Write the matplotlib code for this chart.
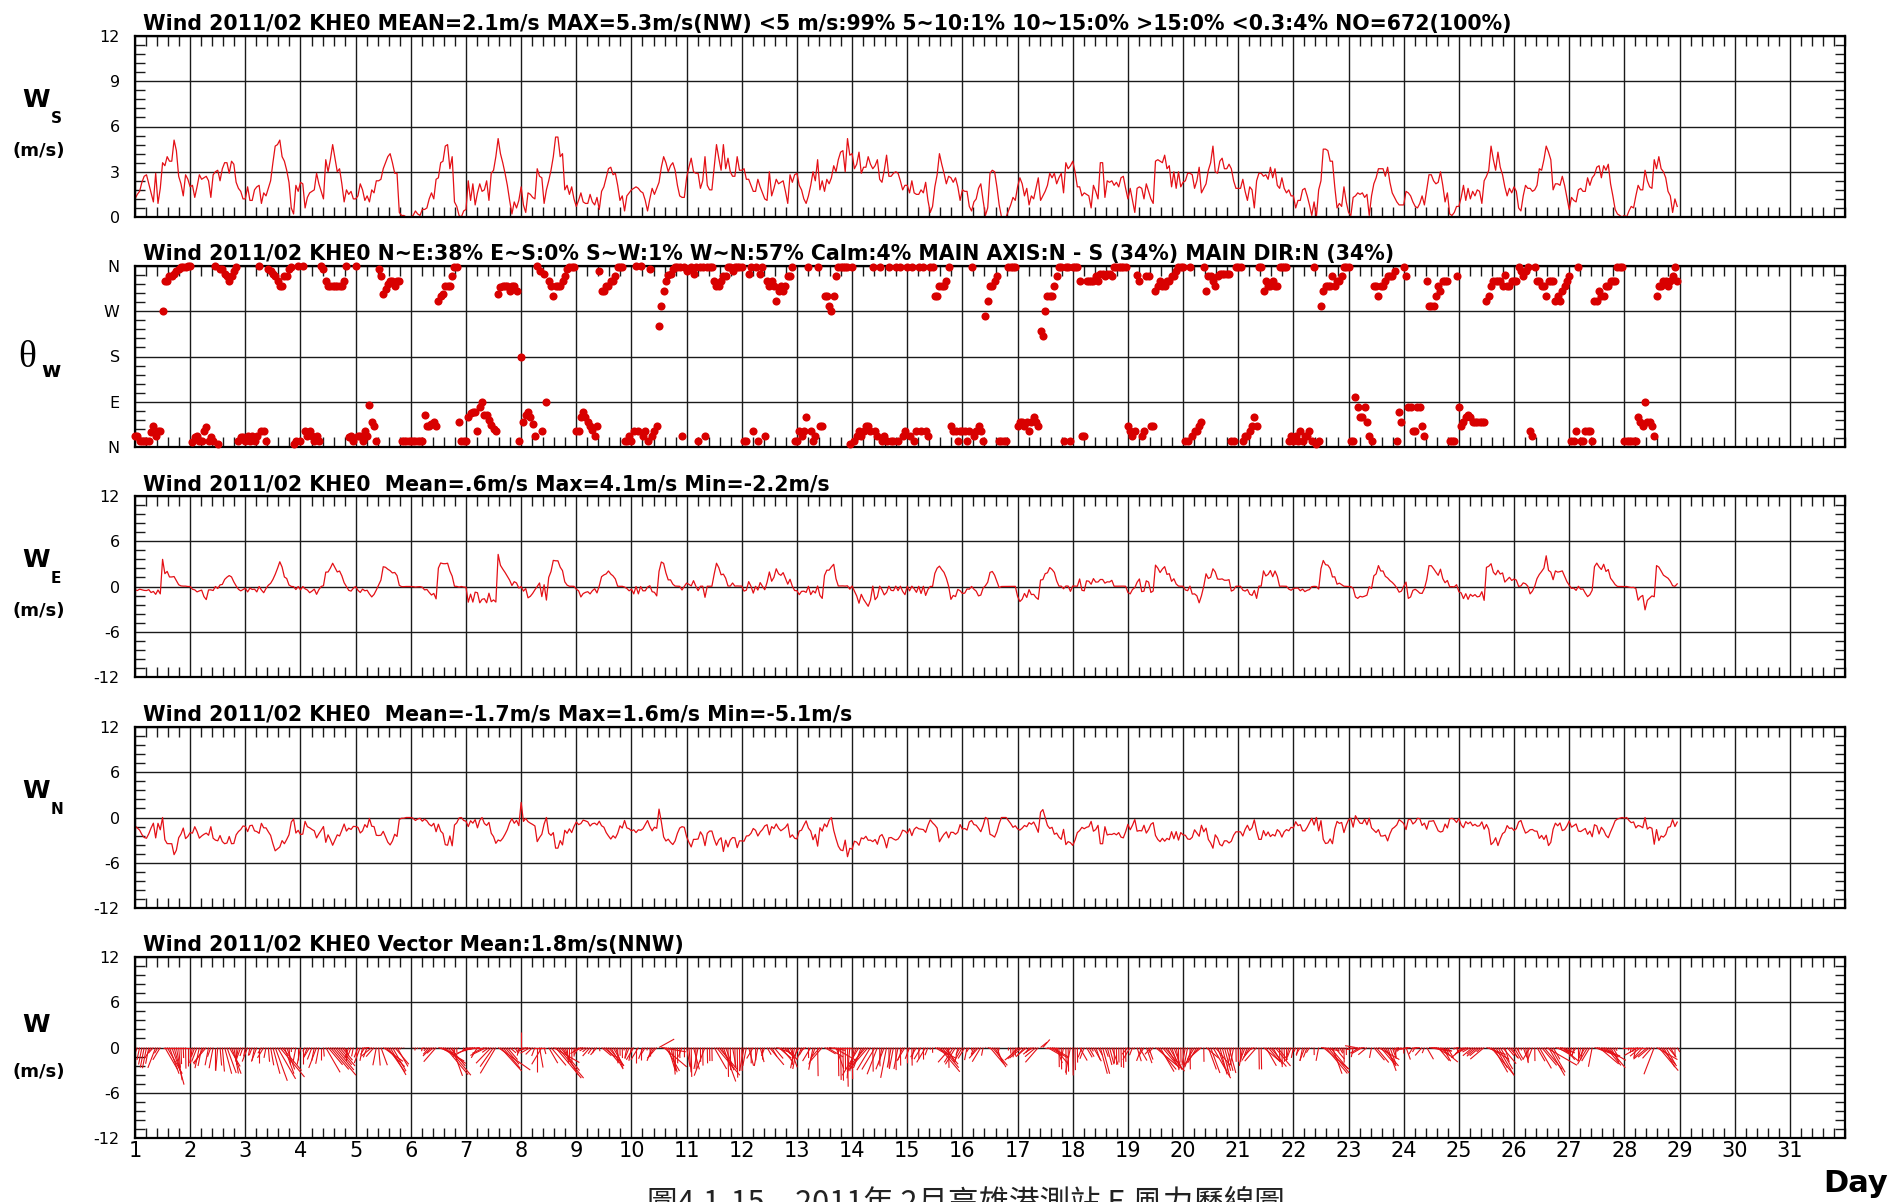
import numpy as np
import matplotlib.pyplot as plt
from matplotlib.collections import LineCollection
from matplotlib.ticker import MultipleLocator, AutoMinorLocator, FixedLocator

plt.rcParams['font.family'] = ['DejaVu Sans']
plt.rcParams['axes.unicode_minus'] = False

W, H, DPI = 1893, 1202, 100

# hourly wind speed (m/s), one row per day, 2011/02/01 .. 02/28
speed = [
    [1.2, 1.5, 1.7, 2.3, 2.7, 2.8, 2.2, 1.6, 1.0, 2.9, 0.9, 1.9, 3.6, 3.4, 4.0, 3.7, 3.7, 5.1, 4.4, 2.7, 2.2, 1.4, 2.8, 2.5],
    [2.0, 2.1, 1.3, 2.0, 2.8, 2.5, 2.6, 2.7, 2.4, 1.3, 2.8, 3.0, 3.1, 2.4, 3.2, 3.6, 3.6, 2.9, 3.7, 3.5, 2.3, 1.9, 1.7, 1.2],
    [1.2, 2.0, 1.1, 1.1, 1.8, 2.0, 2.1, 0.9, 1.6, 1.4, 1.9, 2.4, 3.6, 4.7, 4.8, 5.1, 4.0, 3.7, 3.1, 2.3, 0.6, 0.2, 2.1, 1.7],
    [2.3, 2.2, 0.6, 1.3, 1.6, 1.7, 1.8, 2.9, 2.2, 1.7, 1.2, 3.8, 3.0, 3.8, 4.8, 3.9, 3.0, 3.2, 2.2, 1.0, 1.8, 1.5, 1.7, 1.2],
    [1.2, 1.4, 2.2, 1.8, 1.1, 1.4, 1.0, 1.8, 1.6, 2.4, 2.4, 2.5, 3.2, 3.6, 4.0, 4.2, 3.6, 2.9, 2.9, 0.3, 0.1, 0.1, 0.0, 0.0],
    [0.0, 0.1, 0.4, 0.2, 0.1, 0.5, 0.5, 0.6, 1.2, 1.6, 1.2, 2.5, 2.6, 3.6, 3.7, 4.7, 4.8, 3.2, 4.0, 1.0, 0.7, 0.1, 0.0, 0.4],
    [0.5, 2.4, 1.1, 2.2, 0.8, 1.6, 2.2, 1.7, 1.8, 2.4, 1.1, 2.9, 3.1, 4.0, 5.2, 4.2, 3.6, 2.9, 2.1, 1.1, 0.2, 1.0, 0.6, 1.1],
    [2.0, 0.8, 0.3, 1.6, 1.5, 1.3, 1.2, 3.2, 2.7, 2.6, 0.9, 1.8, 2.4, 3.1, 4.0, 5.3, 5.3, 4.0, 4.2, 1.8, 2.1, 1.5, 2.0, 1.2],
    [0.7, 1.1, 1.6, 1.0, 0.9, 0.9, 1.5, 1.0, 0.8, 1.3, 0.5, 1.7, 2.0, 2.6, 3.2, 3.3, 2.8, 2.9, 2.1, 1.1, 1.4, 0.4, 1.4, 1.6],
    [1.8, 1.9, 2.0, 1.9, 1.7, 1.6, 1.1, 0.4, 1.2, 1.9, 1.5, 1.9, 2.3, 3.3, 4.0, 3.6, 3.0, 3.4, 3.6, 3.1, 2.1, 1.4, 1.3, 1.3],
    [2.6, 3.3, 3.9, 3.0, 2.9, 2.9, 1.9, 2.4, 4.0, 2.1, 1.8, 1.8, 3.3, 4.8, 3.9, 3.1, 4.8, 3.2, 3.9, 3.0, 2.7, 2.7, 4.0, 3.1],
    [3.1, 3.2, 2.5, 2.5, 2.1, 1.7, 1.7, 2.5, 2.0, 1.6, 1.2, 1.1, 3.0, 1.4, 1.9, 2.5, 2.2, 2.3, 2.4, 1.7, 0.9, 2.8, 2.3, 2.8],
    [2.9, 2.1, 1.8, 1.2, 0.9, 1.4, 2.1, 3.0, 2.4, 3.8, 1.8, 2.4, 1.7, 2.5, 2.2, 2.6, 3.4, 3.0, 3.8, 4.3, 4.4, 3.0, 5.2, 4.1],
    [4.2, 3.2, 3.5, 4.3, 2.9, 3.3, 3.3, 4.0, 3.5, 3.2, 3.4, 3.8, 2.5, 2.3, 3.1, 4.1, 2.7, 2.7, 2.9, 3.0, 2.9, 2.4, 1.8, 2.1],
    [2.1, 1.6, 2.4, 1.6, 1.5, 1.5, 1.8, 1.6, 2.3, 1.1, 0.3, 0.7, 2.0, 2.8, 4.2, 3.5, 2.9, 2.2, 2.7, 2.6, 2.3, 2.6, 2.0, 1.1],
    [1.8, 1.7, 1.7, 0.7, 0.4, 1.0, 1.2, 1.9, 2.2, 1.1, 0.1, 0.6, 2.9, 3.1, 3.0, 2.0, 0.8, 0.0, 0.0, 0.0, 0.4, 0.8, 1.3, 1.1],
    [2.0, 2.6, 2.2, 1.4, 1.9, 0.8, 1.4, 1.2, 1.9, 2.6, 1.1, 1.4, 1.7, 2.1, 2.9, 2.6, 2.9, 2.2, 2.6, 2.9, 1.6, 3.6, 3.2, 3.4],
    [3.7, 3.0, 2.0, 2.0, 1.4, 1.6, 1.5, 1.4, 0.6, 2.1, 1.7, 1.2, 3.6, 3.6, 1.3, 2.4, 2.3, 2.4, 2.1, 2.3, 2.0, 2.6, 2.7, 1.9],
    [1.2, 1.9, 1.1, 0.3, 1.9, 2.0, 1.9, 1.2, 2.2, 1.7, 1.2, 0.9, 3.7, 3.8, 3.7, 3.6, 4.1, 3.2, 3.4, 2.0, 3.0, 1.9, 3.0, 2.0],
    [2.3, 2.4, 2.9, 2.9, 2.8, 1.9, 2.4, 3.3, 1.6, 1.9, 2.2, 3.1, 3.6, 4.7, 3.0, 2.9, 3.7, 3.9, 3.2, 3.2, 3.5, 3.2, 2.4, 1.9],
    [1.9, 1.9, 2.5, 1.7, 1.1, 2.0, 1.8, 0.6, 2.4, 2.9, 2.9, 2.7, 2.8, 2.5, 3.3, 2.6, 3.2, 2.1, 1.9, 2.6, 1.9, 1.6, 1.8, 1.4],
    [1.4, 0.6, 1.1, 1.1, 1.8, 1.9, 1.4, 0.8, 0.1, 1.0, 0.0, 1.8, 2.4, 4.5, 4.5, 4.4, 3.7, 3.7, 2.0, 0.6, 0.9, 0.7, 2.0, 1.0],
    [0.3, 0.1, 1.3, 1.4, 1.6, 1.5, 1.6, 1.3, 1.5, 0.1, 1.4, 2.2, 2.6, 3.2, 3.2, 3.2, 2.7, 3.3, 2.3, 1.6, 1.3, 1.0, 0.8, 0.8],
    [0.8, 1.7, 1.6, 1.4, 1.0, 0.7, 0.6, 0.9, 1.4, 0.8, 1.8, 2.8, 2.8, 2.4, 2.2, 2.3, 3.0, 2.1, 1.0, 1.6, 0.2, 0.1, 0.3, 0.7],
    [0.7, 1.3, 2.1, 1.1, 1.9, 1.2, 1.7, 1.4, 1.8, 1.7, 0.9, 2.4, 2.7, 3.1, 4.7, 3.8, 3.1, 4.3, 3.3, 2.8, 2.0, 1.4, 1.9, 1.6],
    [2.0, 1.7, 0.6, 0.4, 1.4, 2.1, 1.9, 1.9, 1.7, 1.8, 2.1, 3.2, 3.1, 3.8, 4.7, 4.3, 3.8, 1.8, 2.2, 2.2, 2.1, 2.7, 2.1, 1.3],
    [0.5, 1.3, 1.1, 1.0, 1.8, 1.9, 1.7, 1.7, 2.6, 2.1, 2.6, 2.8, 3.3, 3.4, 2.6, 3.4, 3.1, 3.5, 2.2, 1.4, 0.5, 0.2, 0.1, 0.0],
    [0.1, 0.0, 0.4, 0.7, 0.6, 1.4, 2.1, 1.8, 1.8, 3.1, 2.4, 2.0, 1.9, 3.8, 3.2, 4.0, 3.2, 3.0, 2.6, 1.7, 1.4, 0.3, 1.2, 0.7],
]

# hourly wind direction (deg, coming from), same layout
direction = [
    [21, 21, 12, 11, 11, 11, 11, 30, 41, 21, 31, 31, 270, 330, 330, 340, 340, 345, 350, 355, 358, 358, 359, 360],
    [360, 10, 20, 21, 12, 11, 31, 40, 11, 20, 11, 360, 5, 355, 355, 345, 340, 330, 340, 350, 358, 11, 20, 20],
    [11, 21, 11, 21, 11, 21, 360, 31, 31, 11, 355, 350, 345, 340, 330, 320, 320, 340, 340, 355, 359, 5, 11, 360],
    [11, 360, 31, 21, 31, 21, 11, 21, 11, 360, 355, 330, 320, 320, 320, 320, 320, 320, 320, 330, 360, 20, 21, 11],
    [360, 21, 21, 11, 31, 21, 83, 50, 41, 11, 355, 340, 305, 315, 325, 330, 330, 320, 330, 330, 11, 11, 11, 11],
    [11, 11, 11, 11, 11, 11, 64, 41, 41, 45, 50, 41, 290, 300, 305, 320, 320, 320, 340, 358, 359, 50, 11, 11],
    [11, 60, 67, 70, 70, 31, 80, 90, 64, 64, 54, 44, 35, 31, 305, 318, 320, 320, 320, 310, 320, 320, 310, 11],
    [180, 50, 64, 70, 60, 45, 21, 360, 350, 31, 345, 90, 330, 320, 300, 320, 320, 320, 330, 340, 355, 359, 359, 359],
    [31, 31, 60, 70, 60, 50, 41, 34, 21, 41, 350, 310, 310, 320, 320, 330, 330, 340, 359, 359, 359, 11, 11, 21],
    [11, 31, 360, 31, 360, 21, 31, 11, 355, 21, 31, 41, 241, 280, 310, 330, 343, 345, 355, 359, 359, 359, 21, 359],
    [350, 355, 359, 345, 359, 11, 359, 359, 21, 359, 359, 359, 330, 320, 320, 330, 340, 340, 359, 359, 350, 359, 359, 359],
    [359, 11, 11, 345, 359, 31, 359, 11, 345, 359, 21, 330, 320, 330, 320, 290, 310, 320, 310, 320, 340, 340, 359, 11],
    [11, 31, 21, 31, 60, 359, 31, 11, 21, 359, 41, 41, 300, 300, 280, 270, 300, 340, 359, 359, 359, 359, 359, 5],
    [359, 11, 21, 31, 21, 31, 41, 41, 31, 359, 31, 21, 359, 11, 21, 11, 359, 11, 11, 359, 11, 359, 21, 31],
    [359, 21, 359, 11, 31, 359, 31, 359, 31, 21, 359, 359, 300, 300, 320, 320, 320, 330, 359, 41, 31, 31, 11, 31],
    [31, 31, 11, 31, 359, 21, 31, 41, 31, 11, 261, 290, 320, 320, 330, 340, 11, 11, 11, 11, 359, 359, 359, 359],
    [41, 50, 50, 41, 50, 31, 50, 60, 50, 41, 231, 221, 270, 300, 300, 300, 320, 340, 359, 359, 11, 359, 359, 11],
    [359, 359, 359, 330, 21, 21, 330, 330, 330, 330, 340, 330, 345, 345, 340, 345, 345, 340, 359, 359, 359, 359, 359, 359],
    [41, 31, 21, 31, 343, 330, 21, 31, 340, 340, 41, 41, 310, 320, 330, 320, 320, 330, 330, 340, 340, 350, 359, 359],
    [359, 11, 11, 359, 21, 31, 31, 41, 50, 359, 310, 340, 340, 330, 320, 340, 345, 345, 345, 345, 345, 11, 11, 359],
    [359, 359, 11, 21, 21, 31, 41, 60, 41, 359, 359, 310, 330, 320, 320, 330, 320, 320, 359, 359, 359, 359, 11, 21],
    [11, 21, 11, 31, 11, 21, 21, 31, 11, 359, 5, 11, 280, 310, 320, 320, 320, 340, 320, 330, 330, 340, 359, 359],
    [359, 11, 11, 100, 80, 60, 60, 80, 50, 21, 11, 320, 320, 300, 320, 320, 330, 340, 340, 340, 350, 11, 70, 50],
    [359, 340, 80, 80, 31, 31, 80, 80, 41, 21, 330, 280, 280, 280, 300, 320, 310, 330, 330, 330, 11, 11, 11, 340],
    [80, 41, 50, 60, 64, 60, 50, 50, 50, 50, 50, 50, 290, 300, 320, 330, 330, 330, 330, 320, 343, 320, 320, 330],
    [330, 330, 359, 350, 340, 350, 359, 31, 21, 359, 330, 330, 320, 320, 300, 330, 330, 330, 290, 300, 290, 310, 320, 330],
    [340, 11, 11, 31, 359, 11, 11, 31, 31, 31, 11, 290, 290, 310, 300, 300, 320, 320, 330, 330, 330, 359, 359, 359],
    [11, 11, 11, 11, 11, 11, 60, 50, 41, 90, 50, 50, 41, 21, 300, 320, 320, 330, 330, 320, 330, 340, 359, 330],
]

days = list(range(1, 32))
dir_labels = ['N', 'E', 'S', 'W', 'N']

titles = [
    'Wind 2011/02 KHE0 MEAN=2.1m/s MAX=5.3m/s(NW) <5 m/s:99% 5~10:1% 10~15:0% >15:0% <0.3:4% NO=672(100%)',
    'Wind 2011/02 KHE0 N~E:38% E~S:0% S~W:1% W~N:57% Calm:4% MAIN AXIS:N - S (34%) MAIN DIR:N (34%)',
    'Wind 2011/02 KHE0  Mean=.6m/s Max=4.1m/s Min=-2.2m/s',
    'Wind 2011/02 KHE0  Mean=-1.7m/s Max=1.6m/s Min=-5.1m/s',
    'Wind 2011/02 KHE0 Vector Mean:1.8m/s(NNW)',
]

ws = np.array(speed).ravel()
wd = np.array(direction).ravel()
t = 1 + np.arange(ws.size) / 24.0
we = -ws * np.sin(np.radians(wd))
wn = -ws * np.cos(np.radians(wd))

RED = '#e41016'

fig = plt.figure(figsize=(W / DPI, H / DPI), dpi=DPI)

left, right = 135, 1845
tops = [36, 266, 496, 727, 957]
ph = 181


def ftext(x, y, s, **kw):
    # place text by pixel position measured from the top-left corner
    return fig.text(x / W, 1 - y / H, s, **kw)


axes = []
for top, title in zip(tops, titles):
    ax = fig.add_axes([left / W, 1 - (top + ph) / H, (right - left) / W, ph / H])
    ax.set_xlim(1, 32)
    ax.xaxis.set_major_locator(FixedLocator(days))
    ax.xaxis.set_minor_locator(MultipleLocator(0.2))
    ax.grid(True, which='major', color='#1a1a1a', lw=1.0)
    ax.tick_params(which='both', direction='in', top=True, right=True,
                   width=1.0, color='#1a1a1a')
    ax.tick_params(which='major', length=0)
    ax.tick_params(which='minor', length=7)
    ax.tick_params(axis='y', labelsize=11.5, pad=11)
    ax.tick_params(axis='x', labelbottom=False)
    for s in ax.spines.values():
        s.set_linewidth(1.6)
    ftext(143, top - 6, title, fontsize=14.8, fontweight='bold', va='baseline')
    axes.append(ax)

ax1, ax2, ax3, ax4, ax5 = axes

ax1.set_ylim(0, 12)
ax1.yaxis.set_major_locator(MultipleLocator(3))
ax1.yaxis.set_minor_locator(AutoMinorLocator(5))
ax1.plot(t, ws, color=RED, lw=0.9)

ax2.set_ylim(0, 360)
ax2.set_yticks([0, 90, 180, 270, 360], dir_labels)
ax2.yaxis.set_minor_locator(AutoMinorLocator(5))
ax2.scatter(t, wd, s=34, color='#d80000', lw=0, clip_on=False, zorder=3)

for ax, comp in ((ax3, we), (ax4, wn)):
    ax.set_ylim(-12, 12)
    ax.yaxis.set_major_locator(MultipleLocator(6))
    ax.yaxis.set_minor_locator(AutoMinorLocator(5))
    ax.plot(t, comp, color=RED, lw=0.9)

# stick plot: east component scaled so the sticks keep true angles on screen
ax5.set_ylim(-12, 12)
ax5.yaxis.set_major_locator(MultipleLocator(6))
ax5.yaxis.set_minor_locator(AutoMinorLocator(5))
k = (ph / 24.0) * (31.0 / (right - left))
segs = [[(ti, 0), (ti + u * k, v)] for ti, u, v in zip(t, we, wn)]
ax5.add_collection(LineCollection(segs, colors=RED, linewidths=0.8))
ax5.tick_params(axis='x', labelbottom=True, labelsize=15, pad=2)
ax5.set_xticklabels([str(d) for d in days])

# axis names on the left
for main, sub, i in (('W', 'S', 0), ('W', 'E', 2), ('W', 'N', 3)):
    ftext(22, tops[i] + 71, main, fontsize=18, fontweight='bold', va='baseline')
    ftext(51, tops[i] + 87, sub, fontsize=11, fontweight='bold', va='baseline')
ftext(36, tops[4] + 75, 'W', fontsize=18, fontweight='bold', va='baseline', ha='center')
for i in (0, 2, 4):
    ftext(39, tops[i] + 115, '(m/s)', fontsize=13, fontweight='bold',
          va='center', ha='center')
ftext(18, tops[1] + 101, '\u03b8', fontsize=27, family=['Liberation Serif'],
      va='baseline')
ftext(41, tops[1] + 111, 'w', fontsize=15, fontweight='bold', va='baseline')

ftext(1888, 1192, 'Day', fontsize=22, fontweight='bold', ha='right', va='baseline')
ftext(966, 1187, '圖4.1-15　2011年 2月高雄港測站 E 風力歷線圖', fontsize=22,
      family=['Noto Sans CJK TC', 'DejaVu Sans'], ha='center', va='top',
      color='#222222')

fig.savefig('out.png', dpi=DPI)
